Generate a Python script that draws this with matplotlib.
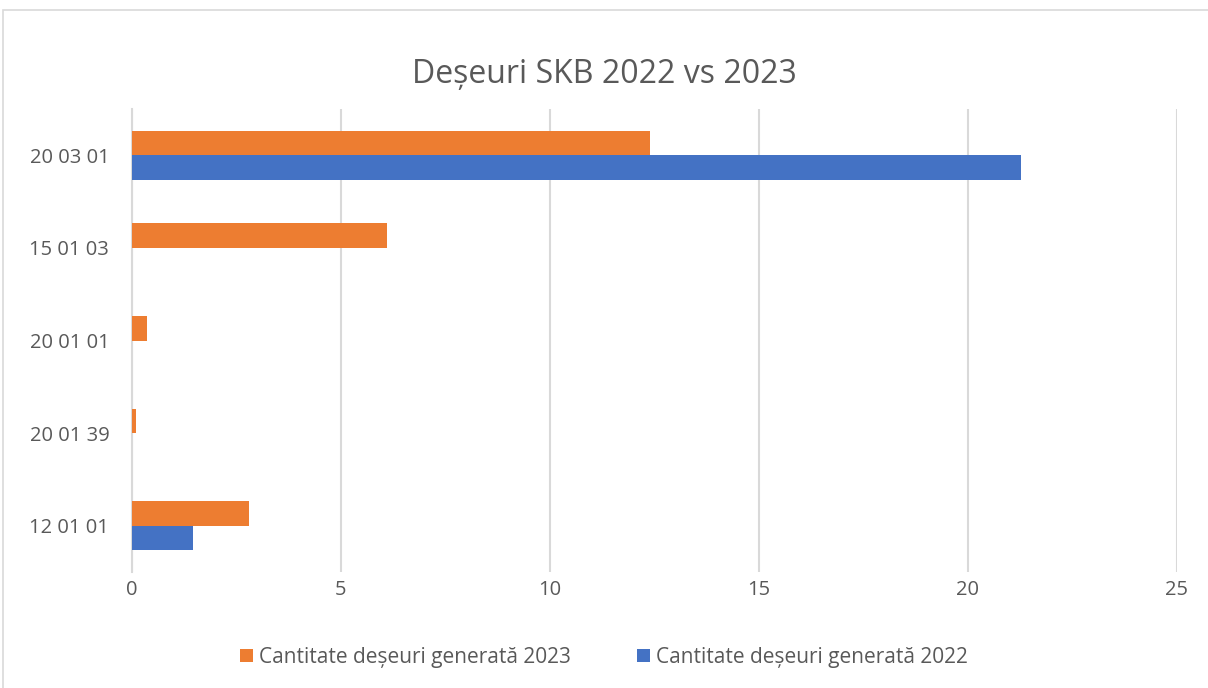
import matplotlib
matplotlib.use("Agg")
import matplotlib.pyplot as plt
from matplotlib.patches import Rectangle
import numpy as np

categories = ["20 03 01", "15 01 03", "20 01 01", "20 01 39", "12 01 01"]
values_2023 = [12.4, 6.1, 0.36, 0.1, 2.8]
values_2022 = [21.27, 0, 0, 0, 1.47]
x_ticks = [0, 5, 10, 15, 20, 25]
title = "Deșeuri SKB 2022 vs 2023"
label_2023 = "Cantitate deșeuri generată 2023"
label_2022 = "Cantitate deșeuri generată 2022"

plt.rcParams['font.family'] = ['Open Sans', 'DejaVu Sans']
text_color = "#595959"
orange = "#ED7D31"
blue = "#4472C4"
grid_color = "#D9D9D9"

W, H = 1208, 688
fig = plt.figure(figsize=(W / 100, H / 100), dpi=100)
fig.patch.set_facecolor("white")

# outer chart border
fig.add_artist(Rectangle((3 / W, -0.1), 1.2, 1 - 10 / H + 0.1,
                         transform=fig.transFigure, fill=False,
                         edgecolor=grid_color, linewidth=1.2))

ax = fig.add_axes([131.5 / W, 1 - 572 / H, (1177 - 131.5) / W, (572 - 109) / H])

n = len(categories)
pos = np.arange(n)[::-1].astype(float)
bh = 0.265
ax.barh(pos + bh / 2, values_2023, height=bh, color=orange, label=label_2023, zorder=3)
ax.barh(pos - bh / 2, values_2022, height=bh, color=blue, label=label_2022, zorder=3)

ax.set_xlim(0, 25)
ax.set_ylim(-0.5, n - 0.5)
ax.set_xticks(x_ticks)
ax.set_xticklabels([str(t) for t in x_ticks])
ax.set_yticks(pos)
ax.set_yticklabels(categories)

ax.xaxis.grid(True, color=grid_color, linewidth=1.5, zorder=0)
ax.set_axisbelow(True)
for s in ["top", "right", "bottom"]:
    ax.spines[s].set_visible(False)
ax.spines["left"].set_color(grid_color)
ax.spines["left"].set_linewidth(1.5)
ax.tick_params(axis="both", length=0, labelsize=14.5, colors=text_color)
ax.tick_params(axis="x", pad=6)
ax.tick_params(axis="y", pad=16)

fig.text(0.5, 1 - 75 / H, title, ha="center", va="center",
         fontsize=23, color=text_color)

handles, labels = ax.get_legend_handles_labels()
leg = fig.legend(handles, labels, loc="center", bbox_to_anchor=(0.5, 1 - 657 / H),
                 ncol=2, frameon=False, fontsize=15, labelcolor=text_color,
                 handlelength=0.6, handleheight=0.6, handletextpad=0.3,
                 columnspacing=3.2)

fig.savefig("out.png", dpi=100, facecolor="white")
